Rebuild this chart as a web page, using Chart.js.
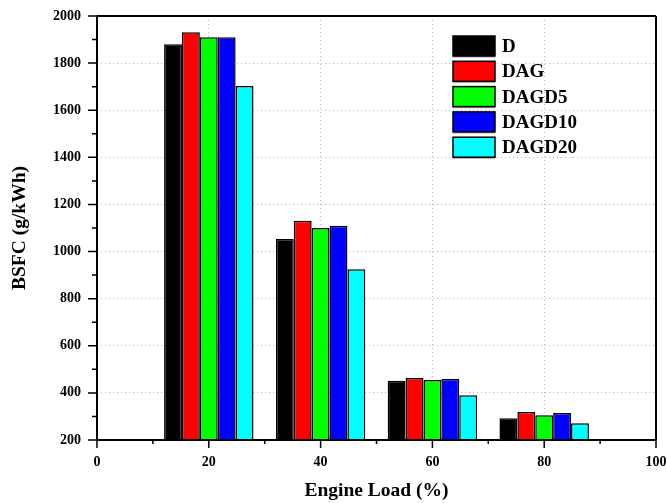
<!DOCTYPE html>
<html>
<head>
<meta charset="utf-8">
<script src="https://cdn.jsdelivr.net/npm/chart.js@4.4.1/dist/chart.umd.min.js"></script>
<style>
  html, body { margin: 0; padding: 0; background: #fff; }
  #wrap { width: 667px; height: 503px; position: relative; }
</style>
</head>
<body>
<div id="wrap"><canvas id="grafico"></canvas></div>
<script>
// BSFC por carga de motor
const loads = [20, 40, 60, 80];
const seriesNames = ["D", "DAG", "DAGD5", "DAGD10", "DAGD20"];
const D      = [1880, 1053, 452, 292];
const DAG    = [1931, 1131, 463, 319];
const DAGD5  = [1910, 1100, 455, 305];
const DAGD10 = [1910, 1110, 459, 315];
const DAGD20 = [1703, 925, 390, 271];
const seriesColors = ["#000000", "#ff0000", "#00ff00", "#0000ff", "#00ffff"];
const xTicks = [0, 20, 40, 60, 80, 100];
const yTicks = [200, 400, 600, 800, 1000, 1200, 1400, 1600, 1800, 2000];

const FONT = '"Liberation Serif", "Times New Roman", serif';
const allSeries = [D, DAG, DAGD5, DAGD10, DAGD20];

const datasets = allSeries.map((vals, i) => ({
  label: seriesNames[i],
  data: loads.map((x, j) => ({ x: x, y: vals[j] })),
  backgroundColor: seriesColors[i],
  borderColor: "#000",
  borderWidth: 1.5,
  base: 200,
  categoryPercentage: 0.8,
  barPercentage: 1.0
}));

// ejes, marco, ticks menores y leyenda dibujados a mano
const marcoPlugin = {
  id: "marco",
  afterDatasetsDraw(chart) {
    const { ctx, chartArea: a, scales } = chart;
    const xs = scales.x, ys = scales.y;
    ctx.save();
    ctx.strokeStyle = "#000";
    ctx.lineWidth = 2;
    ctx.beginPath();
    ctx.moveTo(a.left, a.bottom); ctx.lineTo(a.right, a.bottom);
    ctx.moveTo(a.left, a.bottom); ctx.lineTo(a.left, a.top);
    ctx.moveTo(a.left, a.top); ctx.lineTo(a.right, a.top);
    ctx.moveTo(a.right, a.top); ctx.lineTo(a.right, a.bottom);
    ctx.stroke();

    ctx.lineWidth = 1.5;
    ctx.beginPath();
    for (let v = 0; v <= 100; v += 10) {
      const px = xs.getPixelForValue(v);
      const len = v % 20 === 0 ? 8 : 4;
      ctx.moveTo(px, a.bottom); ctx.lineTo(px, a.bottom + len);
    }
    for (let v = 200; v <= 2000; v += 100) {
      const py = ys.getPixelForValue(v);
      const len = v % 200 === 0 ? 9 : 5;
      ctx.moveTo(a.left, py); ctx.lineTo(a.left - len, py);
    }
    ctx.stroke();

    // leyenda
    const lx = a.left + 356, ly = a.top + 20;
    ctx.font = "bold 19px " + FONT;
    ctx.textBaseline = "middle";
    ctx.textAlign = "left";
    chart.data.datasets.forEach((ds, i) => {
      const y = ly + i * 25.3;
      ctx.fillStyle = "#9a9a9a";
      ctx.fillRect(lx, y + 20, 42, 1.5);
      ctx.fillStyle = ds.backgroundColor;
      ctx.fillRect(lx, y, 42, 20);
      ctx.lineWidth = 1.5;
      ctx.strokeStyle = "#000";
      ctx.strokeRect(lx, y, 42, 20);
      ctx.fillStyle = "#000";
      ctx.fillText(ds.label, lx + 49, y + 11);
    });
    ctx.restore();
  }
};

const gridColor = (ctx, edges) => {
  const v = ctx.tick ? ctx.tick.value : null;
  return edges.includes(v) ? "rgba(0,0,0,0)" : "#b4b4b4";
};

// sin relleno extra por las etiquetas de los extremos
const sinPadding = s => {
  s.paddingTop = 0; s.paddingBottom = 0;
  s.paddingLeft = 0; s.paddingRight = 0;
};

new Chart(document.getElementById("grafico"), {
  type: "bar",
  data: { datasets: datasets },
  plugins: [marcoPlugin],
  options: {
    responsive: true,
    maintainAspectRatio: false,
    animation: false,
    layout: { padding: { top: 16, right: 11, left: 0, bottom: 0 } },
    plugins: {
      legend: { display: false },
      tooltip: { enabled: false }
    },
    scales: {
      x: {
        type: "linear",
        min: 0,
        max: 100,
        offset: false,
        afterFit: s => { s.height = 63; sinPadding(s); },
        afterBuildTicks: s => { s.ticks = xTicks.map(v => ({ value: v })); },
        grid: {
          offset: false,
          drawTicks: false,
          lineWidth: 1,
          color: c => gridColor(c, [0, 100])
        },
        border: { display: false, dash: [1, 3] },
        ticks: {
          padding: 14,
          color: "#000",
          callback: v => String(v),
          font: { family: FONT, size: 14, weight: "bold" }
        },
        title: {
          display: true,
          text: "Engine Load (%)",
          color: "#000",
          padding: { top: 0, bottom: 0 },
          font: { family: FONT, size: 19.5, weight: "bold" }
        }
      },
      y: {
        min: 200,
        max: 2000,
        afterFit: s => { s.width = 97; sinPadding(s); },
        afterBuildTicks: s => { s.ticks = yTicks.map(v => ({ value: v })); },
        grid: {
          drawTicks: false,
          lineWidth: 1,
          color: c => gridColor(c, [200, 2000])
        },
        border: { display: false, dash: [1, 3] },
        ticks: {
          padding: 16,
          color: "#000",
          callback: v => String(v),
          font: { family: FONT, size: 14, weight: "bold" }
        },
        title: {
          display: true,
          text: "BSFC (g/kWh)",
          color: "#000",
          padding: { top: 8, bottom: 0 },
          font: { family: FONT, size: 19.5, weight: "bold" }
        }
      }
    }
  }
});
</script>
</body>
</html>
